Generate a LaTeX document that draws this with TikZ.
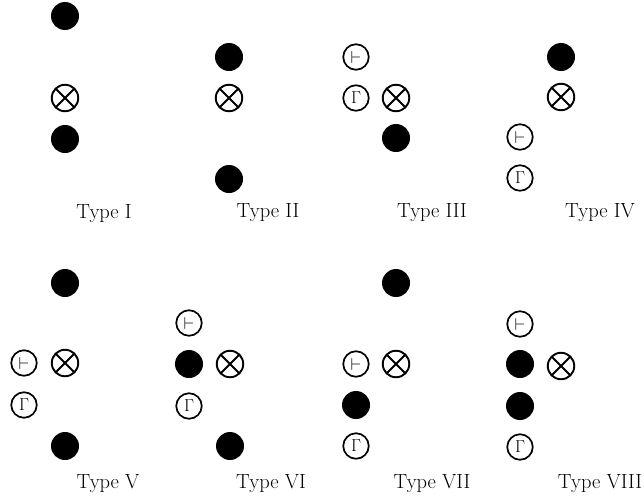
\documentclass[tikz,border=0pt]{standalone}
\begin{document}
\begin{tikzpicture}[x=1pt,y=-1pt,
  dotnode/.style={circle,fill=black,minimum size=28pt,inner sep=0pt},
  otnode/.style={circle,draw=black,line width=1.9pt,minimum size=26.5pt,inner sep=0pt,
    path picture={\draw[line width=1.9pt]
      (path picture bounding box.north west) -- (path picture bounding box.south east)
      (path picture bounding box.north east) -- (path picture bounding box.south west);}},
  letnode/.style={circle,draw=black,line width=1.7pt,minimum size=25.5pt,inner sep=0pt,
    font=\fontsize{17}{19}\selectfont},
  typelabel/.style={font=\fontsize{20.5}{24}\selectfont,inner sep=0pt}]
\useasboundingbox (0,0) rectangle (644,498);
% Type I
\node[dotnode] (a1) at (65,16) {};
\node[otnode] (a2) at (65,98) {};
\node[dotnode] (a3) at (65,139) {};
\node[typelabel] (la) at (104,214) {Type I};
% Type II
\node[dotnode] (b1) at (229,57) {};
\node[otnode] (b2) at (229,98) {};
\node[dotnode] (b3) at (229,179) {};
\node[typelabel] (lb) at (268,213) {Type II};
% Type III
\node[letnode] (c1) at (356,57) {$\vdash$};
\node[letnode] (c2) at (356,98) {$\Gamma$};
\node[otnode] (c3) at (396,98) {};
\node[dotnode] (c4) at (396,138) {};
\node[typelabel] (lc) at (432,213) {Type III};
% Type IV
\node[dotnode] (d1) at (561,57) {};
\node[otnode] (d2) at (561,97) {};
\node[letnode] (d3) at (520,137) {$\vdash$};
\node[letnode] (d4) at (520,178) {$\Gamma$};
\node[typelabel] (ld) at (600,213) {Type IV};
% Type V
\node[dotnode] (e1) at (65,283) {};
\node[letnode] (e2) at (24,363) {$\vdash$};
\node[otnode] (e3) at (65,363) {};
\node[letnode] (e4) at (24,405) {$\Gamma$};
\node[dotnode] (e5) at (65,446) {};
\node[typelabel] (le) at (108,484) {Type V};
% Type VI
\node[letnode] (f1) at (189,323) {$\vdash$};
\node[dotnode] (f2) at (189,364) {};
\node[otnode] (f3) at (230,364) {};
\node[letnode] (f4) at (189,406) {$\Gamma$};
\node[dotnode] (f5) at (230,446) {};
\node[typelabel] (lf) at (271,484) {Type VI};
% Type VII
\node[dotnode] (g1) at (396,283) {};
\node[letnode] (g2) at (356,364) {$\vdash$};
\node[otnode] (g3) at (396,364) {};
\node[dotnode] (g4) at (356,405) {};
\node[letnode] (g5) at (356,446) {$\Gamma$};
\node[typelabel] (lg) at (432,484) {Type VII};
% Type VIII
\node[letnode] (h1) at (520,324) {$\vdash$};
\node[dotnode] (h2) at (520,364) {};
\node[otnode] (h3) at (561,366) {};
\node[dotnode] (h4) at (520,406) {};
\node[letnode] (h5) at (520,447) {$\Gamma$};
\node[typelabel] (lh) at (600,484) {Type VIII};
\end{tikzpicture}
\end{document}
